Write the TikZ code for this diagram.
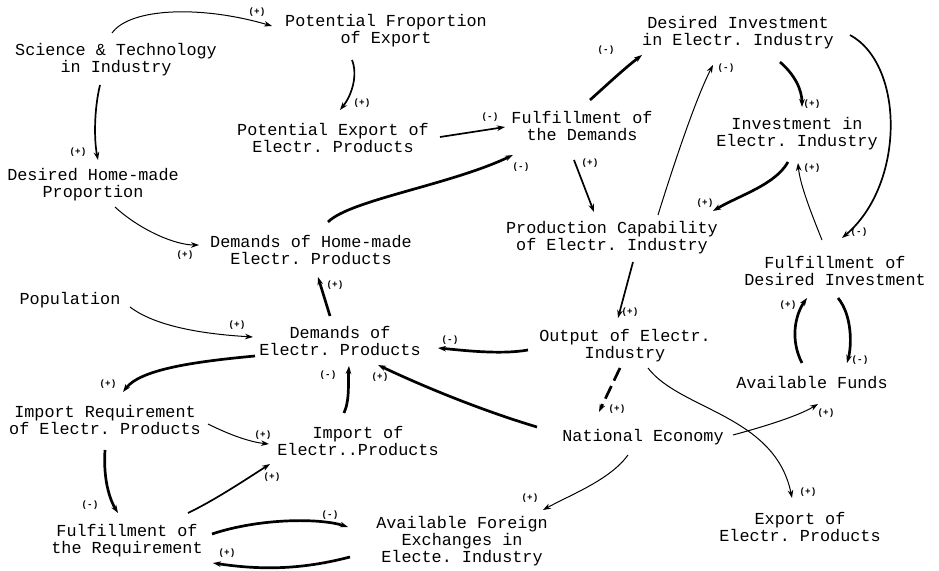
\documentclass[tikz,border=0pt]{standalone}
\usepackage{fontspec}
\setmonofont{Liberation Mono}
\usetikzlibrary{arrows.meta}
\begin{document}
\begin{tikzpicture}[x=0.5pt,y=-0.5pt,
  box/.style={align=center,inner sep=0pt,font=\fontsize{8.4}{8.4}\selectfont\ttfamily},
  sgn/.style={inner sep=0pt,font=\fontsize{4.6}{5}\selectfont\ttfamily\bfseries},
  tip/.style={-{Stealth[length=4pt,width=2.8pt]}},
  thn/.style={tip,line width=0.5pt},
  med/.style={tip,line width=0.85pt},
  thk/.style={tip,line width=1.35pt}]
\useasboundingbox (0,0) rectangle (939,571);
% nodes
\node[box] (sci)  at (116,60)  {Science \& Technology\\in Industry};
\node[box] (ppe)  at (386,31)  {Potential Froportion\\of Export};
\node[box] (dhp)  at (93,185)  {Desired Home-made\\Proportion};
\node[box] (pee)  at (333,138) {Potential Export of\\Electr. Products};
\node[box] (fd)   at (582,126) {Fulfillment of\\the Demands};
\node[box] (dinv) at (738,33)  {Desired Investment\\in Electr. Industry};
\node[box] (inv)  at (797,134) {Investment in\\Electr. Industry};
\node[box] (pc)   at (612,238) {Production Capability\\of Electr. Industry};
\node[box] (fdi)  at (835,271) {Fulfillment of\\Desired Investment};
\node[box] (af)   at (812,383) {Available Funds};
\node[box] (dhm)  at (311,250) {Demands of Home-made\\Electr. Products};
\node[box] (pop)  at (70,300)  {Population};
\node[box] (dem)  at (340,341) {Demands of\\Electr. Products};
\node[box] (out)  at (625,346) {Output of Electr.\\Industry};
\node[box] (ir)   at (105,420) {Import Requirement\\of Electr. Products};
\node[box] (imp)  at (358,441) {Import of\\Electr..Products};
\node[box] (ne)   at (643,437) {National Economy};
\node[box] (fr)   at (127,541) {Fulfillment of\\the Requirement};
\node[box] (afe)  at (462,541) {Available Foreign\\Exchanges in\\Electe. Industry};
\node[box] (exp)  at (800,527) {Export of\\Electr. Products};
% connectors
\draw[thn] ([shift={(-4,-27)}]sci.center) .. controls (130,8) and (200,5) .. ([shift={(-114,-5)}]ppe.center);
\draw[med] ([shift={(-16,25)}]sci.center) .. controls (94,110) and (94,140) .. ([shift={(5,-25)}]dhp.center);
\draw[med] ([shift={(-34,29)}]ppe.center) .. controls (358,75) and (352,95) .. ([shift={(7,-28)}]pee.center);
\draw[med] ([shift={(107,-1)}]pee.center) -- ([shift={(-77,1)}]fd.center);
\draw[thk] ([shift={(17,-28)}]dhm.center) .. controls (350,200) and (450,185) .. ([shift={(-69,29)}]fd.center);
\draw[thk] ([shift={(8,-26)}]fd.center) .. controls (610,82) and (625,68) .. ([shift={(-96,22)}]dinv.center);
\draw[med] ([shift={(-8,34)}]fd.center) -- ([shift={(-18,-26)}]pc.center);
\draw[thn] ([shift={(46,-23)}]pc.center) .. controls (672,170) and (695,100) .. ([shift={(-25,32)}]dinv.center);
\draw[thk] ([shift={(42,29)}]dinv.center) .. controls (795,75) and (802,90) .. ([shift={(5,-27)}]inv.center);
\draw[med] ([shift={(112,2)}]dinv.center) .. controls (905,65) and (905,185) .. ([shift={(7,-33)}]fdi.center);
\draw[thk] ([shift={(-9,28)}]inv.center) .. controls (775,185) and (740,195) .. ([shift={(101,-27)}]pc.center);
\draw[thn] ([shift={(-13,-31)}]fdi.center) .. controls (812,215) and (800,185) .. ([shift={(1,29)}]inv.center);
\draw[thk] ([shift={(3,27)}]fdi.center) .. controls (852,315) and (852,345) .. ([shift={(35,-20)}]af.center);
\draw[thk] ([shift={(-10,-20)}]af.center) .. controls (790,340) and (795,315) .. ([shift={(-28,27)}]fdi.center);
\draw[med] ([shift={(21,24)}]pc.center) -- ([shift={(-7,-28)}]out.center);
\draw[thk] ([shift={(-97,4)}]out.center) .. controls (500,355) and (460,350) .. ([shift={(98,7)}]dem.center);
\draw[thk,dash pattern=on 7pt off 3pt] ([shift={(-5,22)}]out.center) -- ([shift={(-44,-25)}]ne.center);
\draw[thn] ([shift={(23,22)}]out.center) .. controls (680,410) and (775,415) .. ([shift={(-8,-29)}]exp.center);
\draw[thn] ([shift={(90,-2)}]ne.center) .. controls (770,425) and (800,415) .. ([shift={(6,21)}]af.center);
\draw[thk] ([shift={(-106,-10)}]ne.center) .. controls (480,410) and (420,385) .. ([shift={(38,24)}]dem.center);
\draw[thk] ([shift={(-14,-28)}]imp.center) .. controls (350,400) and (348,380) .. ([shift={(9,25)}]dem.center);
\draw[thk] ([shift={(-10,-25)}]dem.center) -- ([shift={(7,27)}]dhm.center);
\draw[thn] ([shift={(22,22)}]dhp.center) .. controls (140,230) and (175,245) .. ([shift={(-112,-5)}]dhm.center);
\draw[thn] ([shift={(60,7)}]pop.center) .. controls (160,330) and (220,335) .. ([shift={(-87,-4)}]dem.center);
\draw[thk] ([shift={(-85,15)}]dem.center) .. controls (190,362) and (140,370) .. ([shift={(18,-28)}]ir.center);
\draw[thn] ([shift={(103,4)}]ir.center) .. controls (230,435) and (250,442) .. ([shift={(-89,3)}]imp.center);
\draw[thk] ([shift={(0,30)}]ir.center) .. controls (103,480) and (110,500) .. ([shift={(-9,-28)}]fr.center);
\draw[med] ([shift={(61,-28)}]fr.center) .. controls (215,500) and (245,480) .. ([shift={(-88,23)}]imp.center);
\draw[thk] ([shift={(85,-7)}]fr.center) .. controls (260,518) and (320,518) .. ([shift={(-114,-14)}]afe.center);
\draw[thk] ([shift={(-112,16)}]afe.center) .. controls (300,570) and (260,570) .. ([shift={(86,22)}]fr.center);
\draw[thn] ([shift={(-15,18)}]ne.center) .. controls (610,480) and (570,495) .. ([shift={(81,-31)}]afe.center);
% polarity signs
\node[sgn] (s1)  at (257,12)  {(+)};
\node[sgn] (s2)  at (78,152)  {(+)};
\node[sgn] (s3)  at (362,103) {(+)};
\node[sgn] (s4)  at (490,117) {(-)};
\node[sgn] (s5)  at (521,167) {(-)};
\node[sgn] (s6)  at (606,50)  {(-)};
\node[sgn] (s7)  at (590,163) {(+)};
\node[sgn] (s8)  at (726,68)  {(-)};
\node[sgn] (s9)  at (812,104) {(+)};
\node[sgn] (s10) at (859,232) {(-)};
\node[sgn] (s11) at (705,203) {(+)};
\node[sgn] (s12) at (812,168) {(+)};
\node[sgn] (s13) at (860,360) {(-)};
\node[sgn] (s14) at (788,305) {(+)};
\node[sgn] (s15) at (630,312) {(+)};
\node[sgn] (s16) at (450,340) {(-)};
\node[sgn] (s17) at (617,409) {(+)};
\node[sgn] (s18) at (808,492) {(+)};
\node[sgn] (s19) at (826,413) {(+)};
\node[sgn] (s20) at (380,377) {(+)};
\node[sgn] (s21) at (328,375) {(-)};
\node[sgn] (s22) at (335,285) {(+)};
\node[sgn] (s23) at (185,255) {(+)};
\node[sgn] (s24) at (237,325) {(+)};
\node[sgn] (s25) at (108,384) {(+)};
\node[sgn] (s26) at (263,435) {(+)};
\node[sgn] (s27) at (90,505)  {(-)};
\node[sgn] (s28) at (272,477) {(+)};
\node[sgn] (s29) at (330,515) {(-)};
\node[sgn] (s30) at (227,553) {(+)};
\node[sgn] (s31) at (530,498) {(+)};
\end{tikzpicture}
\end{document}
